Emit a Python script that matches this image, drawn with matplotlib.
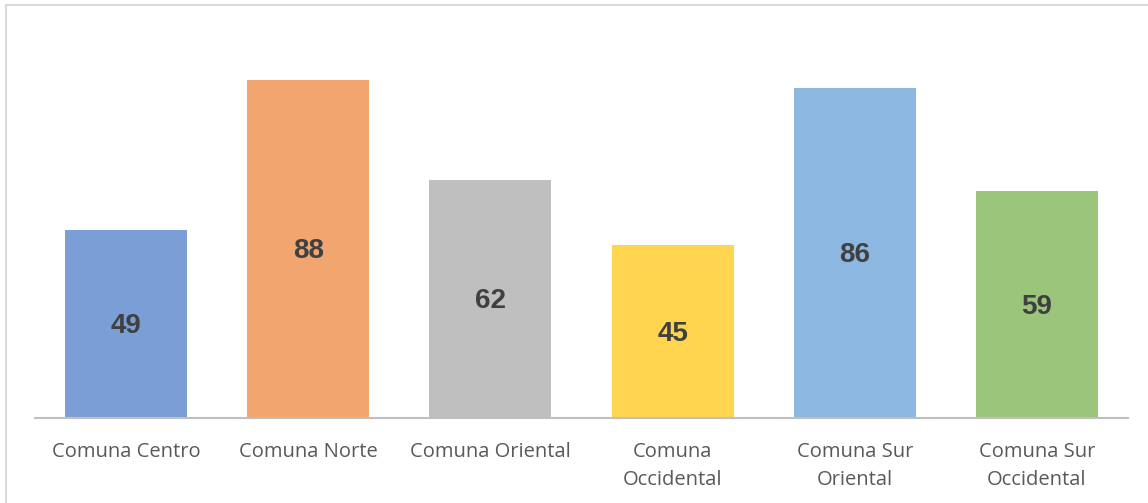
# bar chart of counts per comuna
import matplotlib.pyplot as plt
from matplotlib.patches import Rectangle

comunas = ["Comuna Centro", "Comuna Norte", "Comuna Oriental",
           "Comuna\nOccidental", "Comuna Sur\nOriental", "Comuna Sur\nOccidental"]
valores = [49, 88, 62, 45, 86, 59]
colores = ["#7C9ED6", "#F1A56F", "#BFBFBF", "#FFD44F", "#8CB7E0", "#9CC57C"]

plt.rcParams['font.family'] = ['Open Sans', 'DejaVu Sans']

fig = plt.figure(figsize=(11.48, 5.03), dpi=100)
ax = fig.add_axes([35 / 1148, 85 / 503, 1093 / 1148, 384 / 503])

x = range(len(comunas))
bars = ax.bar(x, valores, width=0.67, color=colores)

for b, v in zip(bars, valores):
    ax.text(b.get_x() + b.get_width() / 2, v / 2 - 0.6, str(v), ha='center', va='center',
            fontsize=20, fontweight='bold', color='#404040',
            family=['Liberation Sans', 'DejaVu Sans'])

ax.set_xlim(-0.5, len(comunas) - 0.5)
ax.set_ylim(0, 100)
ax.set_xticks(list(x))
ax.set_xticklabels(comunas, fontsize=14.5, color='#595959', linespacing=1.55)
ax.tick_params(axis='x', length=0, pad=17)
ax.set_yticks([])
for s in ['top', 'right', 'left']:
    ax.spines[s].set_visible(False)
ax.spines['bottom'].set_color('#BFBFBF')
ax.spines['bottom'].set_linewidth(1.5)

# chart border (only top/left visible in the original)
fig.patches.append(Rectangle((5.5 / 1148, -0.1), 1.2, (498 / 503) + 0.1,
                             transform=fig.transFigure, fill=False,
                             edgecolor='#D9D9D9', linewidth=1.5))

fig.savefig("out.png", dpi=100)
